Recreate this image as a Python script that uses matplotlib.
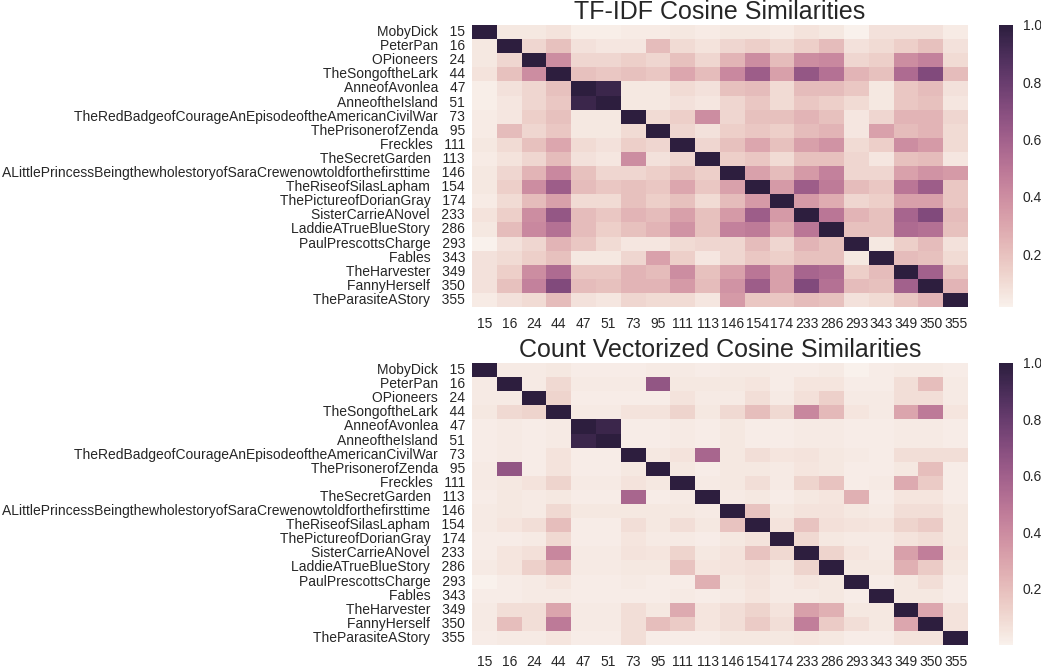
import matplotlib
matplotlib.use("Agg")
import matplotlib.pyplot as plt
import numpy as np
import seaborn as sns


titles = [
    "MobyDick", "PeterPan", "OPioneers", "TheSongoftheLark", "AnneofAvonlea",
    "AnneoftheIsland", "TheRedBadgeofCourageAnEpisodeoftheAmericanCivilWar",
    "ThePrisonerofZenda", "Freckles", "TheSecretGarden",
    "ALittlePrincessBeingthewholestoryofSaraCrewenowtoldforthefirsttime",
    "TheRiseofSilasLapham", "ThePictureofDorianGray", "SisterCarrieANovel",
    "LaddieATrueBlueStory", "PaulPrescottsCharge", "Fables", "TheHarvester",
    "FannyHerself", "TheParasiteAStory",
]
book_ids = [15, 16, 24, 44, 47, 51, 73, 95, 111, 113, 146, 154, 174, 233, 286,
            293, 343, 349, 350, 355]

tfidf_sim = [
    [1.00, 0.05, 0.05, 0.07, 0.03, 0.03, 0.04, 0.04, 0.05, 0.04, 0.05, 0.05, 0.04, 0.07, 0.05, 0.015, 0.08, 0.08, 0.08, 0.04],
    [0.05, 1.00, 0.12, 0.20, 0.08, 0.06, 0.06, 0.22, 0.10, 0.07, 0.12, 0.15, 0.10, 0.15, 0.22, 0.08, 0.10, 0.15, 0.20, 0.08],
    [0.05, 0.12, 1.00, 0.40, 0.12, 0.12, 0.15, 0.12, 0.20, 0.12, 0.25, 0.40, 0.22, 0.40, 0.42, 0.12, 0.15, 0.40, 0.45, 0.10],
    [0.07, 0.20, 0.40, 1.00, 0.20, 0.18, 0.20, 0.18, 0.30, 0.22, 0.42, 0.62, 0.33, 0.65, 0.52, 0.25, 0.20, 0.55, 0.72, 0.22],
    [0.03, 0.08, 0.12, 0.20, 1.00, 0.95, 0.05, 0.05, 0.10, 0.08, 0.20, 0.22, 0.10, 0.22, 0.22, 0.18, 0.05, 0.18, 0.22, 0.08],
    [0.03, 0.06, 0.12, 0.18, 0.95, 1.00, 0.05, 0.05, 0.08, 0.06, 0.12, 0.18, 0.10, 0.18, 0.15, 0.10, 0.05, 0.18, 0.20, 0.06],
    [0.04, 0.06, 0.15, 0.20, 0.05, 0.05, 1.00, 0.10, 0.15, 0.40, 0.12, 0.20, 0.20, 0.25, 0.20, 0.06, 0.12, 0.25, 0.25, 0.12],
    [0.04, 0.22, 0.12, 0.18, 0.05, 0.05, 0.10, 1.00, 0.12, 0.08, 0.15, 0.18, 0.15, 0.22, 0.25, 0.06, 0.32, 0.22, 0.25, 0.10],
    [0.05, 0.10, 0.20, 0.30, 0.10, 0.08, 0.15, 0.12, 1.00, 0.12, 0.20, 0.30, 0.20, 0.33, 0.38, 0.10, 0.15, 0.40, 0.35, 0.10],
    [0.04, 0.07, 0.12, 0.22, 0.08, 0.06, 0.40, 0.08, 0.12, 1.00, 0.15, 0.18, 0.10, 0.20, 0.20, 0.12, 0.06, 0.20, 0.22, 0.06],
    [0.05, 0.12, 0.25, 0.42, 0.20, 0.12, 0.12, 0.15, 0.20, 0.15, 1.00, 0.32, 0.22, 0.35, 0.45, 0.12, 0.12, 0.32, 0.38, 0.35],
    [0.05, 0.15, 0.40, 0.62, 0.22, 0.18, 0.20, 0.18, 0.30, 0.18, 0.32, 1.00, 0.35, 0.62, 0.48, 0.22, 0.18, 0.50, 0.62, 0.18],
    [0.04, 0.10, 0.22, 0.33, 0.10, 0.10, 0.20, 0.15, 0.20, 0.10, 0.22, 0.35, 1.00, 0.35, 0.28, 0.12, 0.15, 0.33, 0.33, 0.18],
    [0.07, 0.15, 0.40, 0.65, 0.22, 0.18, 0.25, 0.22, 0.33, 0.20, 0.35, 0.62, 0.35, 1.00, 0.50, 0.25, 0.20, 0.58, 0.72, 0.22],
    [0.05, 0.22, 0.42, 0.52, 0.22, 0.15, 0.20, 0.25, 0.38, 0.20, 0.45, 0.48, 0.28, 0.50, 1.00, 0.20, 0.20, 0.55, 0.52, 0.20],
    [0.015, 0.08, 0.12, 0.25, 0.18, 0.10, 0.06, 0.06, 0.10, 0.12, 0.12, 0.22, 0.12, 0.25, 0.20, 1.00, 0.05, 0.15, 0.22, 0.08],
    [0.08, 0.10, 0.15, 0.20, 0.05, 0.05, 0.12, 0.32, 0.15, 0.06, 0.12, 0.18, 0.15, 0.20, 0.20, 0.05, 1.00, 0.22, 0.20, 0.10],
    [0.08, 0.15, 0.40, 0.55, 0.18, 0.18, 0.25, 0.22, 0.40, 0.20, 0.32, 0.50, 0.33, 0.58, 0.55, 0.15, 0.22, 1.00, 0.60, 0.18],
    [0.08, 0.20, 0.45, 0.72, 0.22, 0.20, 0.25, 0.25, 0.35, 0.22, 0.38, 0.62, 0.33, 0.72, 0.52, 0.22, 0.20, 0.60, 1.00, 0.25],
    [0.04, 0.08, 0.10, 0.22, 0.08, 0.06, 0.12, 0.10, 0.10, 0.06, 0.35, 0.18, 0.18, 0.22, 0.20, 0.08, 0.10, 0.18, 0.25, 1.00],
]

count_sim = [
    [1.00, 0.03, 0.03, 0.04, 0.02, 0.02, 0.02, 0.03, 0.03, 0.02, 0.03, 0.03, 0.02, 0.02, 0.03, 0.00, 0.02, 0.03, 0.03, 0.02],
    [0.03, 1.00, 0.03, 0.10, 0.03, 0.03, 0.03, 0.65, 0.04, 0.04, 0.04, 0.05, 0.02, 0.05, 0.05, 0.02, 0.02, 0.08, 0.20, 0.03],
    [0.03, 0.03, 1.00, 0.12, 0.02, 0.02, 0.02, 0.02, 0.06, 0.03, 0.03, 0.08, 0.03, 0.07, 0.13, 0.03, 0.03, 0.08, 0.08, 0.03],
    [0.04, 0.10, 0.12, 1.00, 0.03, 0.03, 0.06, 0.06, 0.12, 0.04, 0.10, 0.20, 0.10, 0.42, 0.22, 0.05, 0.03, 0.30, 0.48, 0.05],
    [0.02, 0.03, 0.02, 0.03, 1.00, 0.95, 0.02, 0.02, 0.03, 0.02, 0.04, 0.02, 0.02, 0.03, 0.03, 0.02, 0.02, 0.03, 0.03, 0.02],
    [0.02, 0.03, 0.02, 0.03, 0.95, 1.00, 0.02, 0.02, 0.03, 0.02, 0.04, 0.02, 0.02, 0.03, 0.03, 0.02, 0.02, 0.03, 0.03, 0.02],
    [0.02, 0.03, 0.02, 0.06, 0.02, 0.02, 1.00, 0.04, 0.06, 0.57, 0.04, 0.08, 0.05, 0.06, 0.04, 0.03, 0.02, 0.08, 0.08, 0.08],
    [0.03, 0.65, 0.02, 0.06, 0.02, 0.02, 0.04, 1.00, 0.04, 0.02, 0.04, 0.04, 0.03, 0.05, 0.04, 0.02, 0.02, 0.04, 0.20, 0.02],
    [0.03, 0.04, 0.06, 0.12, 0.03, 0.03, 0.06, 0.04, 1.00, 0.03, 0.04, 0.08, 0.03, 0.12, 0.18, 0.02, 0.03, 0.28, 0.15, 0.02],
    [0.02, 0.04, 0.03, 0.04, 0.02, 0.02, 0.57, 0.02, 0.03, 1.00, 0.03, 0.04, 0.02, 0.04, 0.05, 0.25, 0.02, 0.05, 0.05, 0.02],
    [0.03, 0.04, 0.03, 0.10, 0.04, 0.04, 0.04, 0.04, 0.04, 0.03, 1.00, 0.18, 0.04, 0.06, 0.06, 0.04, 0.03, 0.08, 0.08, 0.04],
    [0.03, 0.05, 0.08, 0.20, 0.02, 0.02, 0.08, 0.04, 0.08, 0.04, 0.18, 1.00, 0.06, 0.18, 0.07, 0.06, 0.05, 0.12, 0.15, 0.04],
    [0.02, 0.02, 0.03, 0.10, 0.02, 0.02, 0.05, 0.03, 0.03, 0.02, 0.04, 0.06, 1.00, 0.10, 0.04, 0.03, 0.03, 0.06, 0.08, 0.04],
    [0.02, 0.05, 0.07, 0.42, 0.03, 0.03, 0.06, 0.05, 0.12, 0.04, 0.06, 0.18, 0.10, 1.00, 0.12, 0.05, 0.03, 0.32, 0.46, 0.05],
    [0.03, 0.05, 0.13, 0.22, 0.03, 0.03, 0.04, 0.04, 0.18, 0.05, 0.06, 0.07, 0.04, 0.12, 1.00, 0.04, 0.04, 0.25, 0.15, 0.04],
    [0.00, 0.02, 0.03, 0.05, 0.02, 0.02, 0.03, 0.02, 0.02, 0.25, 0.04, 0.06, 0.03, 0.05, 0.04, 1.00, 0.02, 0.04, 0.08, 0.02],
    [0.02, 0.02, 0.03, 0.03, 0.02, 0.02, 0.02, 0.02, 0.03, 0.02, 0.03, 0.05, 0.03, 0.03, 0.04, 0.02, 1.00, 0.04, 0.04, 0.02],
    [0.03, 0.08, 0.08, 0.30, 0.03, 0.03, 0.08, 0.04, 0.28, 0.05, 0.08, 0.12, 0.06, 0.32, 0.25, 0.04, 0.04, 1.00, 0.29, 0.06],
    [0.03, 0.20, 0.08, 0.48, 0.03, 0.03, 0.08, 0.20, 0.15, 0.05, 0.08, 0.15, 0.08, 0.46, 0.15, 0.08, 0.04, 0.29, 1.00, 0.06],
    [0.02, 0.03, 0.03, 0.05, 0.02, 0.02, 0.08, 0.02, 0.02, 0.02, 0.04, 0.04, 0.04, 0.05, 0.04, 0.02, 0.02, 0.06, 0.06, 1.00],
]

panels = [
    ("TF-IDF Cosine Similarities", tfidf_sim),
    ("Count Vectorized Cosine Similarities", count_sim),
]


def main() -> None:
    sns.set_style("white")
    plt.rcParams["font.family"] = ["Liberation Sans", "DejaVu Sans"]
    plt.rcParams["text.color"] = "#262626"
    plt.rcParams["xtick.color"] = "#262626"
    plt.rcParams["ytick.color"] = "#262626"

    fig = plt.figure(figsize=(10.41, 6.67), dpi=100)
    cmap = sns.cubehelix_palette(light=.95, as_cmap=True)

    row_labels = [f"{t}   {i}" for t, i in zip(titles, book_ids)]
    W, H = 1041, 667
    tops = [25, 363]
    for (title, mat), top in zip(panels, tops):
        ax = fig.add_axes([472 / W, (H - top - 282) / H, 496 / W, 282 / H])
        cax = fig.add_axes([999 / W, (H - top - 282) / H, 14 / W, 282 / H])
        sns.heatmap(np.array(mat), ax=ax, cbar_ax=cax, cmap=cmap,
                    xticklabels=book_ids, yticklabels=row_labels)
        ax.set_title(title, fontsize=18, pad=4)
        ax.tick_params(axis="both", length=0, labelsize=10)
        ax.tick_params(axis="x", pad=7)
        ax.tick_params(axis="y", pad=5)
        plt.setp(ax.get_yticklabels(), rotation=0)
        plt.setp(ax.get_xticklabels(), rotation=0)
        cax.set_yticks([0.2, 0.4, 0.6, 0.8, 1.0])
        cax.tick_params(length=0, labelsize=10, pad=7)

    fig.savefig("out.png", dpi=100)
    plt.close(fig)


if __name__ == "__main__":
    main()
